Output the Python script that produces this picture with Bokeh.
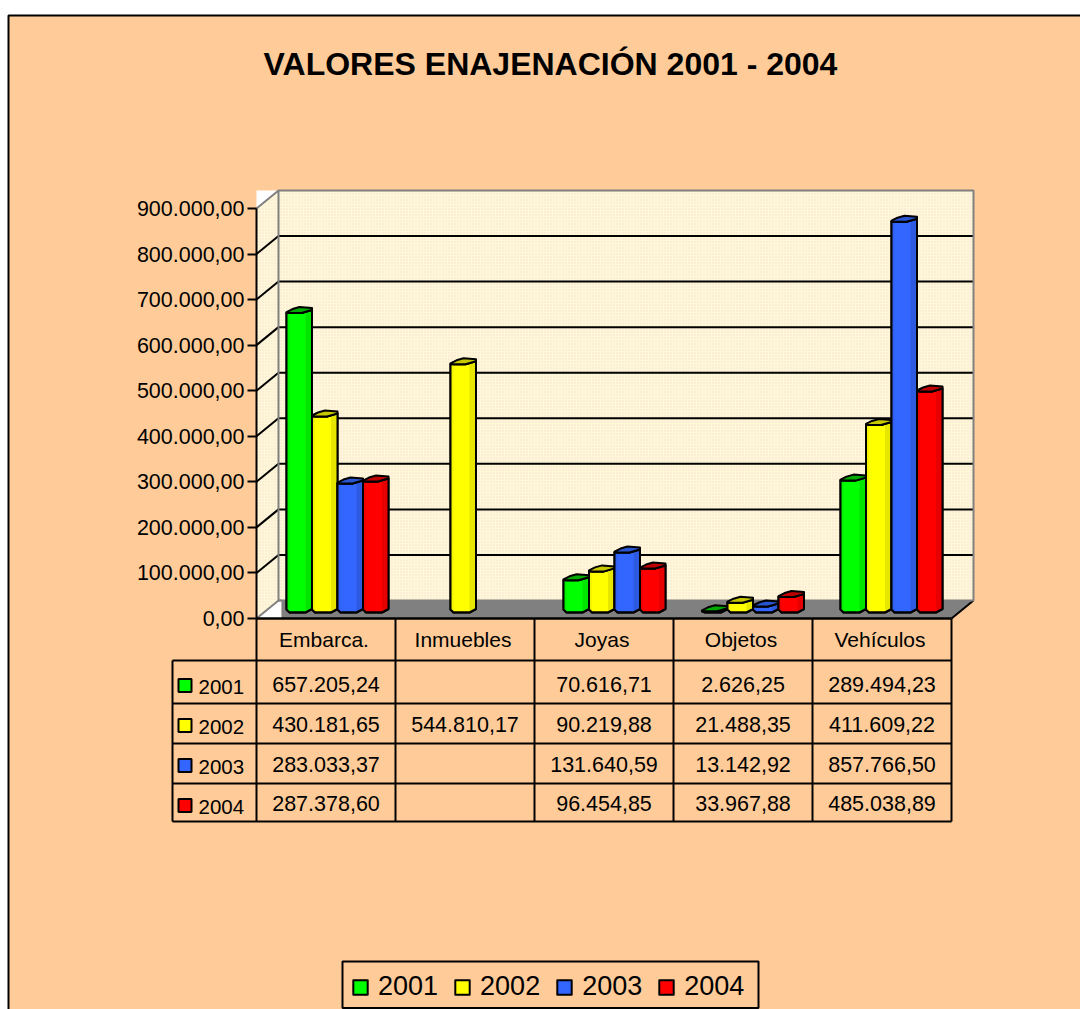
from bokeh.plotting import figure
from bokeh.embed import file_html
from bokeh.resources import INLINE
from bokeh.core.properties import value
from bokeh.models import Range1d, LinearAxis, FixedTicker, Legend, LegendItem

TITLE = "VALORES ENAJENACIÓN 2001 - 2004"
categories = ["Embarca.", "Inmuebles", "Joyas", "Objetos", "Vehículos"]
years = ["2001", "2002", "2003", "2004"]
s2001 = [657205.24, None, 70616.71, 2626.25, 289494.23]
s2002 = [430181.65, 544810.17, 90219.88, 21488.35, 411609.22]
s2003 = [283033.37, None, 131640.59, 13142.92, 857766.50]
s2004 = [287378.60, None, 96454.85, 33967.88, 485038.89]
series = [s2001, s2002, s2003, s2004]
y_ticks = [0, 100000, 200000, 300000, 400000, 500000, 600000, 700000, 800000, 900000]

face = ["#00ff00", "#ffff00", "#3366ff", "#ff0000"]
band = ["#00e600", "#e6e600", "#2d5ae0", "#e60000"]
lefts = ["#00ee00", "#f4f400", "#3060f0", "#f00000"]
caps = ["#00aa00", "#c8c800", "#2a55d0", "#c00000"]
BG = "#ffcc99"
WALL = "#fff8d8"
GRAY = "#808080"
FONT = value("Liberation Sans")

W, H = 1080, 1009
X0, Y0 = 256.0, 618.0           # page position of category 0 / value 0
CAT_PX = 139.0                  # px per category
VAL_PX = 45.56 / 100000.0       # px per unit of value


def sx(px):
    return (px - X0) / CAT_PX


def sy(py):
    return (Y0 - py) / VAL_PX


DX, DY = 22.0 / CAT_PX, 18.0 / VAL_PX   # depth of the box
TOP = y_ticks[-1]
N = len(categories)

p = figure(width=W, height=H, output_backend="svg", toolbar_location=None,
           x_axis_type=None, y_axis_type=None, min_border=0,
           x_range=Range1d(sx(0), sx(W)), y_range=Range1d(sy(H), sy(0)),
           background_fill_color="white", border_fill_color="white",
           outline_line_color=None)

# page background and frame
p.quad(left=[sx(8)], right=[sx(W)], top=[sy(15)], bottom=[sy(H)],
       fill_color=BG, line_color=None)
p.line([sx(8), sx(8), sx(W)], [sy(H), sy(15), sy(15)], line_color="black", line_width=2)

# white corners behind the box
p.quad(left=[0], right=[DX], top=[TOP + DY], bottom=[TOP], fill_color="white", line_color=None)
p.quad(left=[0], right=[DX + 3 / CAT_PX], top=[DY], bottom=[0], fill_color="white", line_color=None)

# walls
hatch = dict(hatch_pattern="dot", hatch_color="#f6d0d0", hatch_scale=3, hatch_weight=1.5, hatch_alpha=0.7)
p.patch([0, DX, DX, 0], [0, DY, TOP + DY, TOP], fill_color=WALL, line_color=None, **hatch)
p.quad(left=[DX], right=[N + DX], top=[TOP + DY], bottom=[DY], fill_color=WALL, line_color=None, **hatch)

# floor
p.patch([DX + 3 / CAT_PX, N + DX, N, DX + 3 / CAT_PX], [DY, DY, 0, 0], fill_color=GRAY, line_color=None)
p.line([0, DX], [0, DY], line_color=GRAY, line_width=2)
p.line([N, N + DX], [0, DY], line_color="black", line_width=2)
p.line([DX, DX + 3 / CAT_PX], [DY, DY], line_color=GRAY, line_width=2)

# grid on walls
inner = y_ticks[1:-1]
p.multi_line([[0, DX] for _ in inner], [[t, t + DY] for t in inner], line_color="black", line_width=2)
p.multi_line([[DX, N + DX] for _ in inner], [[t + DY, t + DY] for t in inner], line_color="black", line_width=2)
p.line([0, DX, N + DX, N + DX, DX, DX],
       [TOP, TOP + DY, TOP + DY, DY, DY, TOP + DY], line_color=GRAY, line_width=2)

# bars
BAR_STEP = 138.5 / CAT_PX
bar_renderers = []
B = 25.5 / CAT_PX
ux, uy = 1 / CAT_PX, 1 / VAL_PX
BASE = 6 * uy
for j, vals in enumerate(series):
    body_x, body_y, band_x, band_y, left_x, left_y, cap_x, cap_y = [], [], [], [], [], [], [], []
    for i, v in enumerate(vals):
        if v is None:
            continue
        x = i * BAR_STEP + (30 + 25.5 * j) * ux
        t = BASE + v
        lb = min(t, BASE + 3 * uy)
        rb = min(t + 3 * uy, BASE + 3.5 * uy)
        body_x.append([x, x + 15 * ux, x + B, x + B, x + 19 * ux, x + 3 * ux, x])
        body_y.append([t, t, t + 3 * uy, rb, BASE, BASE, lb])
        band_x.append([x + 19 * ux, x + B, x + B, x + 19 * ux])
        band_y.append([t + 1.5 * uy, t + 3 * uy, rb, BASE])
        left_x.append([x, x + 3 * ux, x + 3 * ux, x])
        left_y.append([t, t, BASE, lb])
        cap_x.append([x, x + 6 * ux, x + 13 * ux, x + B, x + B, x + 15 * ux, x])
        cap_y.append([t + uy, t + 4 * uy, t + 6 * uy, t + 5 * uy, t + 3 * uy, t, t])
    r = p.patches(body_x, body_y, fill_color=face[j], line_color="black", line_width=2, line_join="round")
    bar_renderers.append(r)
    p.patches(band_x, band_y, fill_color=band[j], line_color=None)
    p.patches(left_x, left_y, fill_color=lefts[j], line_color=None)
    p.patches(body_x, body_y, fill_color=None, line_color="black", line_width=2, line_join="round")
    p.patches(cap_x, cap_y, fill_color=caps[j], line_color="black", line_width=2, line_join="round")

# data table
row_edges = [618, 660, 703, 743, 783, 821]
key_left = 172
p.multi_line([[i, i] for i in range(N + 1)],
             [[sy(row_edges[0]), sy(row_edges[-1])] for _ in range(N + 1)],
             line_color="black", line_width=2)
p.line([0, N], [0, 0], line_color="black", line_width=2.5)
p.multi_line([[sx(key_left), N] for _ in row_edges[1:]],
             [[sy(e), sy(e)] for e in row_edges[1:]], line_color="black", line_width=2)
p.line([sx(key_left)] * 2, [sy(row_edges[1]), sy(row_edges[-1])], line_color="black", line_width=2)


def fmt(v):
    return f"{v:,.2f}".replace(",", "#").replace(".", ",").replace("#", ".")


p.text(x=[i + 0.5 - 2 * ux for i in range(N)], y=[sy(639)] * N, text=categories, text_font=FONT,
       text_font_size="21px", text_align="center", text_baseline="middle", text_color="black")
row_y = [684, 724, 763.5, 803]
tx, ty, tt = [], [], []
for j, vals in enumerate(series):
    for i, v in enumerate(vals):
        if v is not None:
            tx.append(i + 0.5)
            ty.append(sy(row_y[j]))
            tt.append(fmt(v))
p.text(x=tx, y=ty, text=tt, text_font=FONT, text_font_size="21.5px",
       text_align="center", text_baseline="middle", text_color="black")
key_y = [685, 725, 765, 805]
p.quad(left=[sx(178)] * 4, right=[sx(191)] * 4,
       top=[sy(c - 6.5) for c in key_y], bottom=[sy(c + 6.5) for c in key_y],
       fill_color=face, line_color="black", line_width=2)
p.text(x=[sx(198)] * 4, y=[sy(c + 1.5) for c in key_y], text=years, text_font=FONT,
       text_font_size="20.5px", text_align="left", text_baseline="middle", text_color="black")

# title
p.text(x=[sx(550)], y=[sy(63)], text=[TITLE], text_font=FONT, text_font_style="bold",
       text_font_size="32px", text_align="center", text_baseline="middle", text_color="black")

# value axis
ax = LinearAxis(fixed_location=0, ticker=FixedTicker(ticks=y_ticks), bounds=(0, TOP),
                major_label_overrides={t: fmt(t) for t in y_ticks})
ax.axis_line_color = "black"
ax.axis_line_width = 2
ax.major_tick_line_color = "black"
ax.major_tick_line_width = 2
ax.major_tick_in = 0
ax.major_tick_out = 9
ax.minor_tick_line_color = None
ax.major_label_standoff = 3
ax.major_label_text_font = "Liberation Sans"
ax.major_label_text_font_size = "21.5px"
ax.major_label_text_color = "black"
p.add_layout(ax, "left")

# legend: frame drawn on the scales, entries from the bar renderers
p.quad(left=[sx(342)], right=[sx(758)], top=[sy(961)], bottom=[sy(1007.5)],
       fill_color=BG, line_color="black", line_width=2)
items = [LegendItem(label=y, renderers=[r]) for y, r in zip(years, bar_renderers)]
leg = Legend(items=items, orientation="horizontal", location=(351, 7),
             label_text_font="Liberation Sans", label_text_font_size="27px",
             label_text_color="black", label_standoff=9, glyph_width=18, glyph_height=18,
             spacing=15, padding=7, margin=0, border_line_color=None,
             background_fill_alpha=0)
p.add_layout(leg, "center")

open("out.html", "w").write(file_html(p, INLINE))
